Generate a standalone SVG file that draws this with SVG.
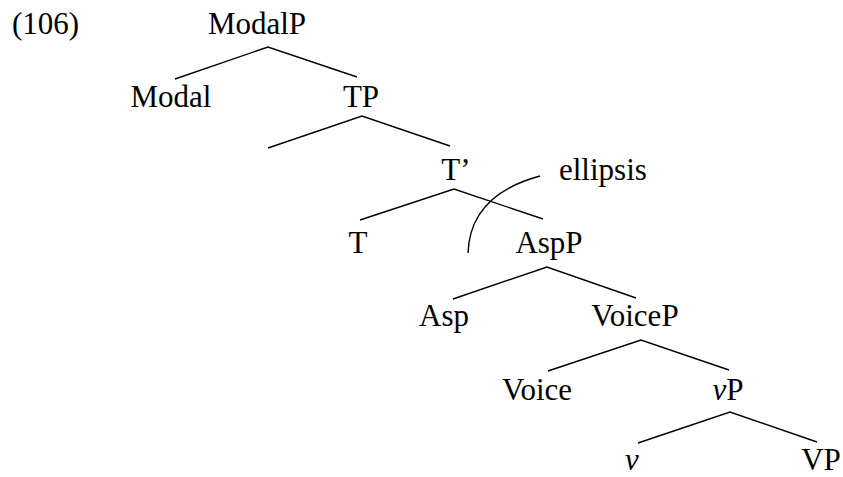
<svg xmlns="http://www.w3.org/2000/svg" width="843" height="477" viewBox="0 0 843 477">
<style>
text{font-family:"Liberation Serif","Times New Roman",serif;font-size:31px;fill:#000;text-anchor:middle}
.l{stroke:#000;stroke-width:1.4;fill:none}
</style>
<rect width="843" height="477" fill="#fff"/>
<text x="12" y="34" style="text-anchor:start">(106)</text>
<g id="n-ModalP"><text x="257" y="34">ModalP</text></g>
<g id="n-Modal"><text x="171" y="107">Modal</text></g>
<g id="n-TP"><text x="361" y="107">TP</text></g>
<g id="n-Tbar"><text x="456" y="180">T’</text></g>
<g id="n-T"><text x="358" y="253">T</text></g>
<g id="n-AspP"><text x="549" y="253">AspP</text></g>
<g id="n-Asp"><text x="444" y="326">Asp</text></g>
<g id="n-VoiceP"><text x="635" y="326">VoiceP</text></g>
<g id="n-Voice"><text x="537" y="400">Voice</text></g>
<g id="n-vP"><text x="728" y="400"><tspan font-style="italic">v</tspan>P</text></g>
<g id="n-v"><text x="632" y="470" font-style="italic">v</text></g>
<g id="n-VP"><text x="821" y="470">VP</text></g>
<g id="n-ellipsis"><text x="559" y="180" style="text-anchor:start">ellipsis</text></g>
<g id="connectors" class="l">
<polyline points="175,79 268,47 357,77"/>
<polyline points="268,148 362,116 450,146"/>
<polyline points="360,220 454,189 543,219"/>
<polyline points="453,299 547,267 636,298"/>
<polyline points="548,371 641,340 729,370"/>
<polyline points="638,443 730,412 817,442"/>
<path d="M540,176 Q470,195 468,253"/>
</g>
</svg>
